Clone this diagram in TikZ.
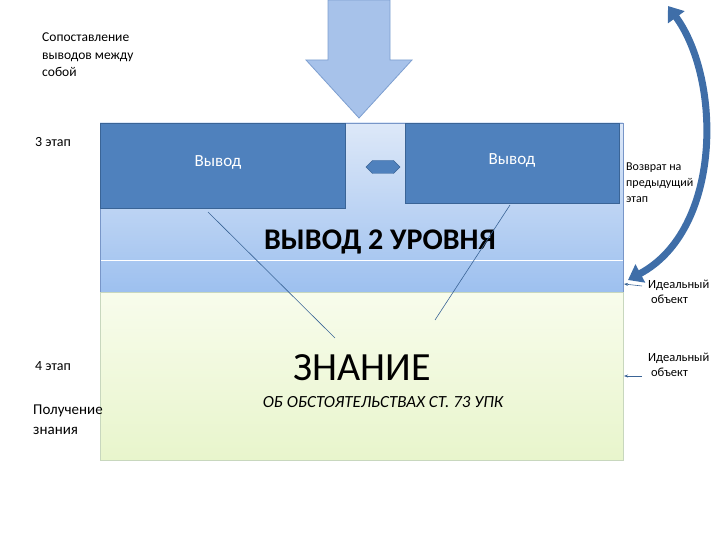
\documentclass[tikz,border=0pt]{standalone}
\usepackage{fontspec}
\setmainfont{Carlito}
\usetikzlibrary{shapes.arrows,arrows.meta}
\definecolor{boxblue}{HTML}{4F81BD}
\definecolor{boxedge}{HTML}{3A6496}
\definecolor{arrowblue}{HTML}{A7C2EA}
\definecolor{arrowedge}{HTML}{7D9FD0}
\definecolor{curveblue}{HTML}{3F6EA8}
\definecolor{bluebot}{HTML}{9DC0EF}
\definecolor{bluetop}{HTML}{DDE8F8}
\definecolor{blueedge}{HTML}{7896C8}
\definecolor{greentop}{HTML}{F8FCEC}
\definecolor{greenbot}{HTML}{E8F5CC}
\definecolor{greenedge}{HTML}{C8D7BE}
\tikzset{x=1pt,y=-1pt,
 vbox/.style={draw=boxedge,fill=boxblue,line width=0.8pt},
 small/.style={font=\fontsize{12}{15}\selectfont,align=left,anchor=north west,inner sep=0pt},
 lbl/.style={font=\fontsize{14}{16}\selectfont,align=left,anchor=north west,inner sep=0pt},
 thin/.style={draw=boxedge,line width=0.6pt}}
\begin{document}
\begin{tikzpicture}
\useasboundingbox (0,0) rectangle (720,540);
% blue region
\shade[top color=bluetop,bottom color=bluebot] (100,123) rectangle (623,292);
\draw[white,line width=0.8pt] (100,260) -- (623,260);
\draw[blueedge,line width=0.6pt] (100,123) rectangle (623,292);
% green region
\shade[top color=greentop,bottom color=greenbot] (100,292) rectangle (623,460);
\draw[greenedge,line width=0.5pt] (100,292) rectangle (623,460);
% boxes
\node[vbox,minimum width=245pt,minimum height=85pt,anchor=north west] (b1) at (100,123) {};
\node[vbox,minimum width=214pt,minimum height=80pt,anchor=north west] (b2) at (405,123) {};
\node[text=white,font=\fontsize{17}{19}\selectfont] at (218,162) {Вывод};
\node[text=white,font=\fontsize{17}{19}\selectfont] at (512,160) {Вывод};
% down arrow
\draw[draw=arrowedge,fill=arrowblue,line width=0.8pt]
 (328,0) -- (390,0) -- (390,60) -- (412,60) -- (359,118) -- (306,60) -- (328,60) -- cycle;
% double arrow
\node[double arrow,fill=boxblue,draw=boxedge,minimum width=13pt,double arrow head extend=0pt,minimum height=34pt,inner sep=2pt] (da) at (383,167) {};
% titles
\node[font=\bfseries\fontsize{30}{34}\selectfont] (t2) at (380,242) {ВЫВОД 2 УРОВНЯ};
\node[font=\fontsize{40}{44}\selectfont] (zn) at (362,368) {ЗНАНИЕ};
\node[font=\itshape\fontsize{17}{20}\selectfont] at (383,402) {ОБ ОБСТОЯТЕЛЬСТВАХ СТ. 73 УПК};
% lines
\coordinate (e1) at (335,338);
\coordinate (e2) at (435,320);
\draw[thin] (208,212) -- (e1);
\draw[thin] (510,205) -- (e2);
% left labels
\node[small,font=\fontsize{13.5}{17.5}\selectfont] at (42,33) {Сопоставление\\выводов между\\собой};
\node[lbl] at (35,137) {3 этап};
\node[lbl] at (35,361) {4 этап};
\node[lbl,font=\fontsize{15}{20}\selectfont] at (33,405) {Получение\\знания};
% right labels
\node[small,font=\fontsize{12}{16}\selectfont] at (626,163) {Возврат на\\предыдущий\\этап};
\node[small,font=\fontsize{12.5}{15}\selectfont] (io1) at (648,280) {Идеальный\\\ объект};
\node[small,font=\fontsize{12.5}{15}\selectfont] (io2) at (648,353) {Идеальный\\\ объект};
\coordinate (p1) at (624,284);
\coordinate (p2) at (624,376);
\draw[thin,-{Stealth[length=4pt]}] (642,286) -- (p1);
\draw[thin,-{Stealth[length=4pt]}] (642,376) -- (p2);
% curved arrow
\coordinate (ct) at (668,6);
\coordinate (cb) at (628,280);
\draw[curveblue,line width=7pt,{Triangle[length=14pt,width=20pt]}-{Triangle[length=14pt,width=20pt]}] (ct) .. controls (722,80) and (722,230) .. (cb);
\end{tikzpicture}
\end{document}
